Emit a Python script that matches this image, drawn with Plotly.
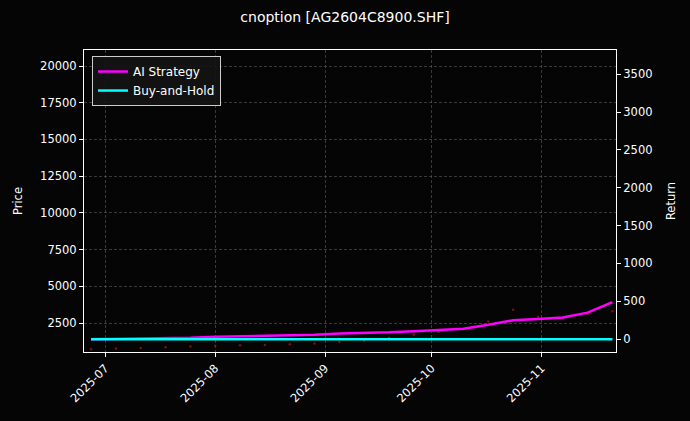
import plotly.graph_objects as go

dates = ["2025-06-27","2025-07-04","2025-07-11","2025-07-18","2025-07-25","2025-08-01","2025-08-08",
         "2025-08-15","2025-08-22","2025-08-29","2025-09-05","2025-09-12","2025-09-19","2025-09-26",
         "2025-10-03","2025-10-10","2025-10-17","2025-10-24","2025-10-31","2025-11-07","2025-11-14","2025-11-21"]
ai_return = [0,4,8,12,18,30,36,42,48,58,75,80,90,105,125,138,190,250,265,285,350,490]
bh_return = [0]*len(dates)
price = [720,760,800,850,900,950,980,1000,1050,1100,1200,1300,1500,1700,1900,2100,2600,3400,2900,2800,3100,3300]

fig = go.Figure()
fig.add_trace(go.Scatter(x=dates, y=price, mode="markers", marker=dict(color="rgba(150,20,20,0.8)", size=2.5),
                         showlegend=False, yaxis="y"))
fig.add_trace(go.Scatter(x=dates, y=ai_return, mode="lines", name="AI Strategy",
                         line=dict(color="#ff00ff", width=2.5), yaxis="y2"))
fig.add_trace(go.Scatter(x=dates, y=bh_return, mode="lines", name="Buy-and-Hold",
                         line=dict(color="#00ffff", width=2.5), yaxis="y2"))

grid = dict(showgrid=True, gridcolor="rgba(110,110,110,0.5)", griddash="3px,2px", gridwidth=0.5)
fig.update_layout(
    width=690, height=421, paper_bgcolor="#050505", plot_bgcolor="#050505",
    font=dict(family="DejaVu Sans", color="white", size=11.5),
    title=dict(text="cnoption [AG2604C8900.SHF]", x=0.5, xanchor="center", y=0.97, font=dict(size=14)),
    margin=dict(l=84, r=74, t=50, b=69, autoexpand=False),
    xaxis=dict(range=["2025-06-25","2025-11-22"], tickformat="%Y-%m", dtick="M1", tick0="2025-07-01",
               tickangle=-45, ticks="outside", ticklen=4, tickcolor="white", automargin=False,
               showline=True, linecolor="white", mirror=True, zeroline=False, **grid),
    yaxis=dict(title=dict(text="Price", font=dict(size=11.5)), range=[525, 21090], tickvals=[2500,5000,7500,10000,12500,15000,17500,20000],
               tickformat="d", automargin=False,
               ticks="outside", ticklen=4, tickcolor="white", showline=True, linecolor="white", zeroline=False, **grid),
    yaxis2=dict(title=dict(text="Return", font=dict(size=11.5)), overlaying="y", side="right", range=[-170, 3820],
                tickvals=[0,500,1000,1500,2000,2500,3000,3500], tickformat="d", ticks="outside", ticklen=4, tickcolor="white",
                showline=True, linecolor="white", showgrid=False, zeroline=False, automargin=False),
    legend=dict(x=0.015, y=0.98, xanchor="left", yanchor="top", bgcolor="rgba(20,20,20,0.9)",
                bordercolor="#cccccc", borderwidth=1, font=dict(size=12)),
)
fig.write_html("out.html", config={"displayModeBar": False},
               post_script="document.body.style.margin='0';document.body.style.background='#050505';")
